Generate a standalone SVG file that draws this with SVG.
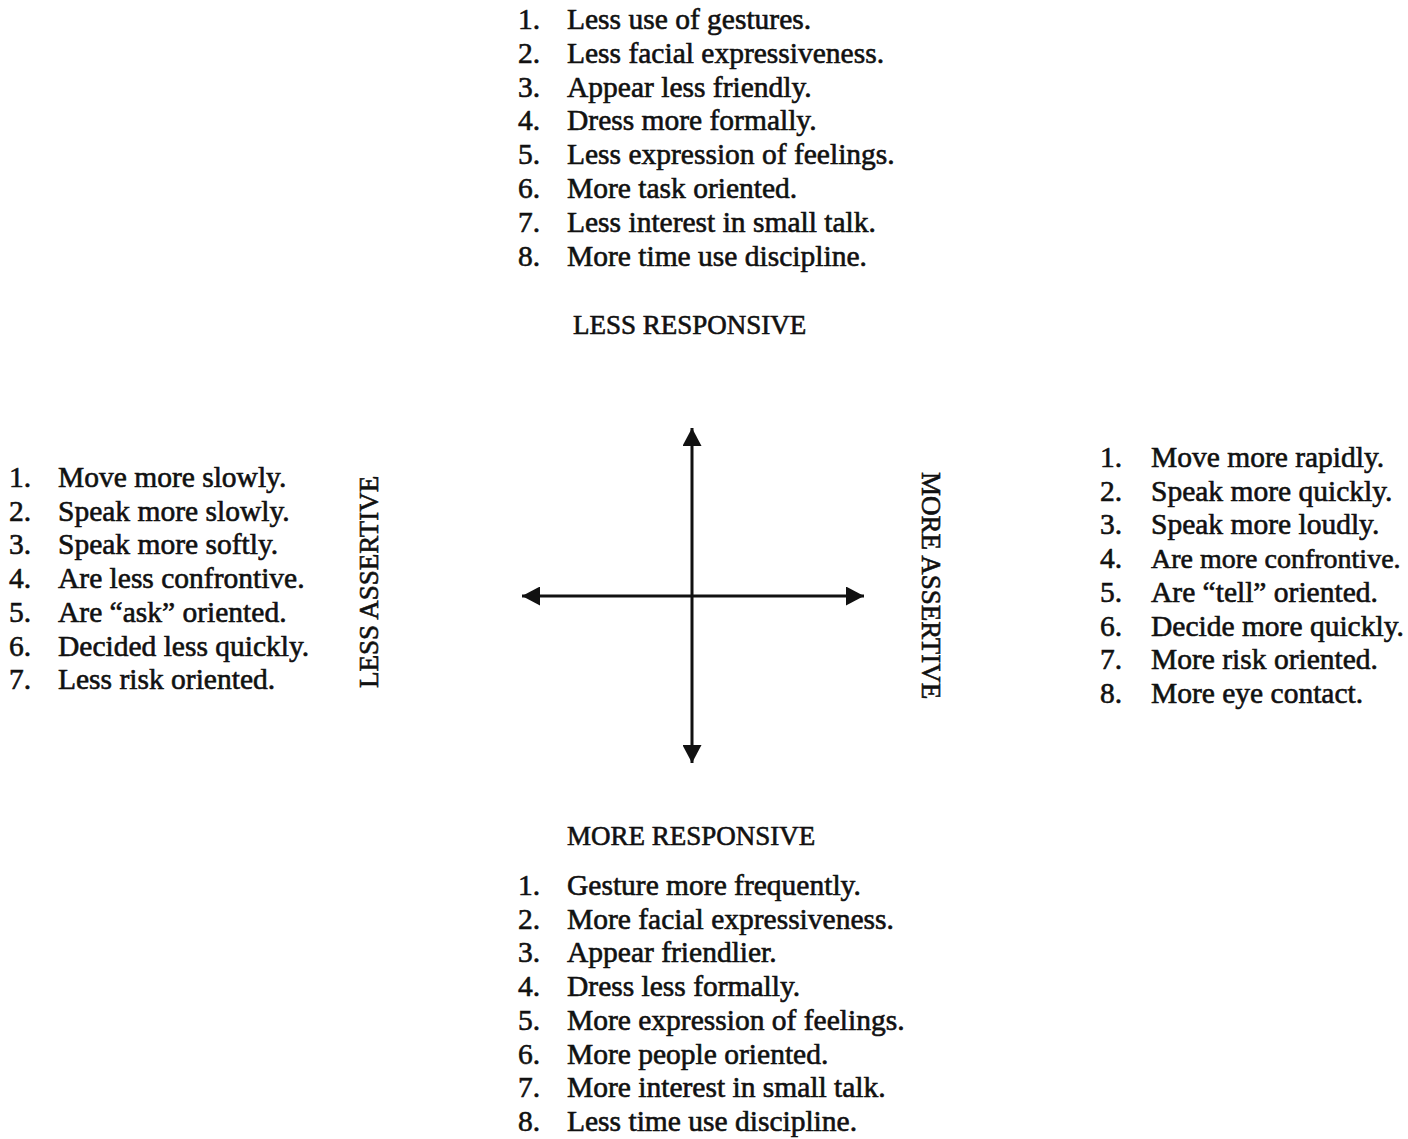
<svg xmlns="http://www.w3.org/2000/svg" width="1408" height="1139" viewBox="0 0 1408 1139">
<style>
  text { font-family: "Liberation Serif", "Times New Roman", serif; fill: #111; stroke: #111; stroke-width: 0.6; }
  .item { font-size: 29.5px; }
  .label { font-size: 27px; }
  .axis { stroke: #111; stroke-width: 3; fill: none; }
</style>
<defs>
  <marker id="arrow" viewBox="0 0 18 19" refX="18" refY="9.5" markerWidth="18" markerHeight="19" markerUnits="userSpaceOnUse" orient="auto-start-reverse">
    <path d="M0,0 L18,9.5 L0,19 z" fill="#111"/>
  </marker>
</defs>
<rect width="1408" height="1139" fill="#fff"/>

<g id="connectors">
  <line class="axis" x1="692" y1="428" x2="692" y2="763" marker-start="url(#arrow)" marker-end="url(#arrow)"/>
  <line class="axis" x1="522" y1="596" x2="864" y2="596" marker-start="url(#arrow)" marker-end="url(#arrow)"/>
</g>

<g id="less-responsive-list">
  <text class="item" y="29"><tspan x="518">1.</tspan><tspan x="567">Less use of gestures.</tspan></text>
  <text class="item" y="62.8"><tspan x="518">2.</tspan><tspan x="567">Less facial expressiveness.</tspan></text>
  <text class="item" y="96.6"><tspan x="518">3.</tspan><tspan x="567">Appear less friendly.</tspan></text>
  <text class="item" y="130.4"><tspan x="518">4.</tspan><tspan x="567">Dress more formally.</tspan></text>
  <text class="item" y="164.2"><tspan x="518">5.</tspan><tspan x="567">Less expression of feelings.</tspan></text>
  <text class="item" y="198"><tspan x="518">6.</tspan><tspan x="567">More task oriented.</tspan></text>
  <text class="item" y="231.8"><tspan x="518">7.</tspan><tspan x="567">Less interest in small talk.</tspan></text>
  <text class="item" y="265.6"><tspan x="518">8.</tspan><tspan x="567">More time use discipline.</tspan></text>
</g>
<g id="less-responsive-label">
  <text class="label" x="573" y="334">LESS RESPONSIVE</text>
</g>

<g id="more-responsive-label">
  <text class="label" x="567" y="845">MORE RESPONSIVE</text>
</g>
<g id="more-responsive-list">
  <text class="item" y="895"><tspan x="518">1.</tspan><tspan x="567">Gesture more frequently.</tspan></text>
  <text class="item" y="928.7"><tspan x="518">2.</tspan><tspan x="567">More facial expressiveness.</tspan></text>
  <text class="item" y="962.4"><tspan x="518">3.</tspan><tspan x="567">Appear friendlier.</tspan></text>
  <text class="item" y="996.1"><tspan x="518">4.</tspan><tspan x="567">Dress less formally.</tspan></text>
  <text class="item" y="1029.8"><tspan x="518">5.</tspan><tspan x="567">More expression of feelings.</tspan></text>
  <text class="item" y="1063.5"><tspan x="518">6.</tspan><tspan x="567">More people oriented.</tspan></text>
  <text class="item" y="1097.2"><tspan x="518">7.</tspan><tspan x="567">More interest in small talk.</tspan></text>
  <text class="item" y="1130.9"><tspan x="518">8.</tspan><tspan x="567">Less time use discipline.</tspan></text>
</g>

<g id="less-assertive-list">
  <text class="item" y="487"><tspan x="9">1.</tspan><tspan x="58">Move more slowly.</tspan></text>
  <text class="item" y="520.7"><tspan x="9">2.</tspan><tspan x="58">Speak more slowly.</tspan></text>
  <text class="item" y="554.4"><tspan x="9">3.</tspan><tspan x="58">Speak more softly.</tspan></text>
  <text class="item" y="588.1"><tspan x="9">4.</tspan><tspan x="58">Are less confrontive.</tspan></text>
  <text class="item" y="621.8"><tspan x="9">5.</tspan><tspan x="58">Are “ask” oriented.</tspan></text>
  <text class="item" y="655.5"><tspan x="9">6.</tspan><tspan x="58">Decided less quickly.</tspan></text>
  <text class="item" y="689.2"><tspan x="9">7.</tspan><tspan x="58">Less risk oriented.</tspan></text>
</g>
<g id="less-assertive-label">
  <text class="label" transform="translate(378,688) rotate(-90)">LESS ASSERTIVE</text>
</g>

<g id="more-assertive-label">
  <text class="label" transform="translate(922,472) rotate(90)">MORE ASSERTIVE</text>
</g>
<g id="more-assertive-list">
  <text class="item" y="467"><tspan x="1100">1.</tspan><tspan x="1151">Move more rapidly.</tspan></text>
  <text class="item" y="500.7"><tspan x="1100">2.</tspan><tspan x="1151">Speak more quickly.</tspan></text>
  <text class="item" y="534.4"><tspan x="1100">3.</tspan><tspan x="1151">Speak more loudly.</tspan></text>
  <text class="item" y="568.1"><tspan x="1100">4.</tspan><tspan x="1151" style="font-size:28px">Are more confrontive.</tspan></text>
  <text class="item" y="601.8"><tspan x="1100">5.</tspan><tspan x="1151">Are “tell” oriented.</tspan></text>
  <text class="item" y="635.5"><tspan x="1100">6.</tspan><tspan x="1151">Decide more quickly.</tspan></text>
  <text class="item" y="669.2"><tspan x="1100">7.</tspan><tspan x="1151">More risk oriented.</tspan></text>
  <text class="item" y="702.9"><tspan x="1100">8.</tspan><tspan x="1151">More eye contact.</tspan></text>
</g>
</svg>
